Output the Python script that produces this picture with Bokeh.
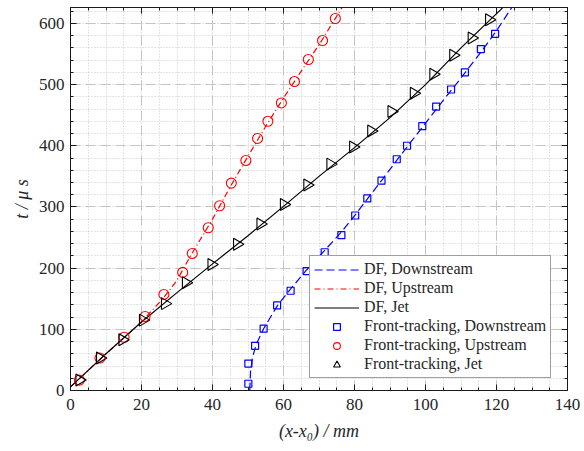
import numpy as np
from bokeh.plotting import figure
from bokeh.models import (Range1d, LinearAxis, SingleIntervalTicker, Legend, LegendItem,
                          CustomJSTickFormatter)
from bokeh.embed import file_html
from bokeh.resources import INLINE

# ---------------- data ----------------
# DF (solid / dashed / dash-dot curves)
df_down_x = [50.5, 50.7, 51.3, 52.3, 54.4, 58.2, 62.0, 66.5, 71.6, 76.3, 80.2, 84.0, 88.0,
             92.0, 96.0, 100.0, 104.0, 108.0, 112.0, 116.0, 120.0, 124.3]
df_down_y = [0, 30, 55, 75, 101, 138, 166, 197, 229, 259, 287, 316, 346,
             377, 407, 437, 467, 496, 526, 556, 588, 626]

df_up_x = [0, 10, 20, 26, 30, 34, 40, 45, 50, 55, 60, 65, 70, 76.5]
df_up_y = [6, 60, 112, 150, 180, 222, 280, 333, 383, 432, 478, 522, 565, 626]

df_jet_x = [0, 10, 20, 30, 40, 50, 60, 70, 80, 90, 100, 110, 122]
df_jet_y = [6, 60, 112, 160, 207, 253, 301, 350, 397, 446, 500, 560, 627]

# Front-tracking (markers)
ft_down_x = [50.1, 50.1, 52.0, 54.4, 58.2, 62.0, 66.5, 71.6, 76.3, 80.2, 83.6, 87.6, 91.9,
             94.8, 99.1, 103.0, 107.2, 111.1, 115.6, 119.6]
ft_down_y = [11, 44, 73, 101, 139, 163, 195, 226, 254, 286, 314, 343, 378,
             400, 432, 464, 492, 520, 558, 583]

ft_up_x = [2.5, 8.3, 15.1, 21.0, 26.3, 31.6, 34.3, 38.8, 42.0, 45.3, 49.4, 52.7, 55.6,
           59.4, 63.1, 67.0, 71.0, 74.6]
ft_up_y = [17, 53, 87, 121, 157, 193, 224, 266, 302, 339, 376, 412, 440,
           470, 505, 541, 572, 608]

ft_jet_x = [2.5, 8.3, 14.6, 20.4, 26.6, 32.5, 39.7, 46.9, 53.5, 60.1, 66.7, 73.2, 79.6,
            84.7, 90.4, 96.7, 102.2, 107.8, 113.0, 117.9]
ft_jet_y = [17, 53, 83, 115, 142, 176, 206, 239, 272, 304, 336, 370, 398,
            424, 456, 486, 517, 548, 576, 606]

legend_labels = ["DF, Downstream", "DF, Upstream", "DF, Jet",
                 "Front-tracking, Downstream", "Front-tracking, Upstream", "Front-tracking, Jet"]

x_ticks_interval = 20
y_ticks_interval = 100

FONT = "Liberation Serif"
TXT = "#262626"

p = figure(width=584, height=451, output_backend="svg", toolbar_location=None,
           x_range=Range1d(0, 140), y_range=Range1d(0, 626),
           min_border_left=70, min_border_right=17, min_border_top=7, min_border_bottom=61,
           background_fill_color="white", border_fill_color="white")
p.outline_line_color = "#1a1a1a"
p.outline_line_width = 1

p.xaxis.ticker = SingleIntervalTicker(interval=x_ticks_interval, num_minor_ticks=4)
p.yaxis.ticker = SingleIntervalTicker(interval=y_ticks_interval, num_minor_ticks=5)

for ax in (p.xaxis[0], p.yaxis[0]):
    ax.major_tick_in = 6
    ax.major_tick_out = 0
    ax.minor_tick_in = 3
    ax.minor_tick_out = 0
    ax.axis_line_color = "#1a1a1a"
    ax.major_tick_line_color = "#1a1a1a"
    ax.minor_tick_line_color = "#1a1a1a"
    ax.major_label_text_font = FONT
    ax.major_label_text_font_size = "17px"
    ax.major_label_text_color = TXT
    ax.axis_label_text_font = FONT
    ax.axis_label_text_font_style = "italic"
    ax.axis_label_text_font_size = "18px"
    ax.axis_label_text_color = TXT

p.xaxis.major_label_standoff = 8
p.yaxis.major_label_standoff = 6

p.xaxis.axis_label = "(x-x\u2080) / mm"
p.xaxis.axis_label_standoff = 8
p.yaxis.axis_label = "t / \u03bc s"
p.yaxis.axis_label_standoff = 4

blank = CustomJSTickFormatter(code="return ''")
top = LinearAxis(ticker=SingleIntervalTicker(interval=x_ticks_interval, num_minor_ticks=4),
                 formatter=blank)
right = LinearAxis(ticker=SingleIntervalTicker(interval=y_ticks_interval, num_minor_ticks=5),
                   formatter=blank)
for ax in (top, right):
    ax.major_tick_in = 6
    ax.major_tick_out = 0
    ax.minor_tick_in = 3
    ax.minor_tick_out = 0
    ax.major_label_text_font_size = "0px"
    ax.major_label_standoff = 0
    ax.axis_line_color = "#1a1a1a"
    ax.major_tick_line_color = "#1a1a1a"
    ax.minor_tick_line_color = "#1a1a1a"
p.add_layout(top, "above")
p.add_layout(right, "right")

for g in (p.xgrid[0], p.ygrid[0]):
    g.grid_line_color = "#c4c4c4"
    g.grid_line_dash = "10 5"
    g.grid_line_width = 1
    g.minor_grid_line_color = "#c8c8c8"
    g.minor_grid_line_dash = "1 2"
    g.minor_grid_line_width = 1

# lines
r1 = p.line(df_down_x, df_down_y, line_color="#0000ff", line_dash="8 4", line_width=1.2)
r2 = p.line(df_up_x, df_up_y, line_color="#ff0000", line_dash="6 3 1 3", line_width=1.2)
r3 = p.line(df_jet_x, df_jet_y, line_color="black", line_width=1.2)
# markers
r4 = p.scatter(ft_down_x, ft_down_y, marker="square", size=7, fill_color=None,
               line_color="#0000ff", line_width=1.2)
r5 = p.scatter(ft_up_x, ft_up_y, marker="circle", size=10, fill_color=None,
               line_color="#ff0000", line_width=1.1)
r6 = p.scatter(ft_jet_x, ft_jet_y, marker="triangle", size=12, angle=-np.pi / 2,
               fill_color=None, line_color="black", line_width=1.1)

legend = Legend(items=[LegendItem(label=l, renderers=[r]) for l, r in
                       zip(legend_labels, [r1, r2, r3, r4, r5, r6])],
                location=(239, 12))
legend.label_text_font = FONT
legend.label_text_font_size = "16px"
legend.label_text_color = TXT
legend.glyph_width = 45
legend.glyph_height = 17
legend.label_height = 17
legend.label_standoff = 5
legend.spacing = 1
legend.padding = 4
legend.margin = 0
legend.border_line_color = "#404040"
legend.border_line_width = 1
legend.background_fill_alpha = 1
p.add_layout(legend)

open("out.html", "w").write(file_html(p, INLINE))
